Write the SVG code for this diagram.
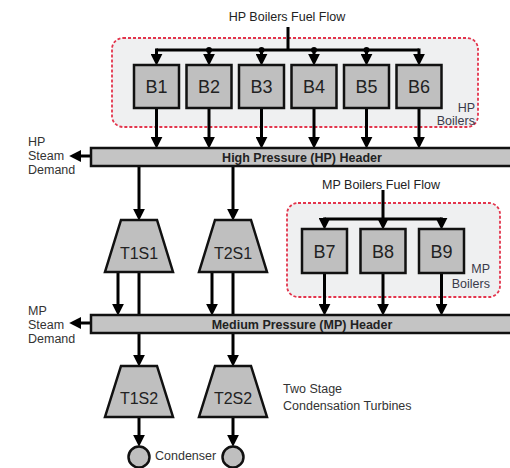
<svg xmlns="http://www.w3.org/2000/svg" width="510" height="468" viewBox="0 0 510 468">
<defs>
<marker id="ah" markerUnits="userSpaceOnUse" markerWidth="12" markerHeight="12" viewBox="0 0 10 10" refX="6" refY="5" orient="auto">
<path d="M0,0 L10,5 L0,10 z" fill="#000"/>
</marker>
<style>
.grp{fill:#eff0f1;stroke:#e3344c;stroke-width:1.8;stroke-dasharray:3 2}
.box{fill:#bfbfbf;stroke:#111;stroke-width:2.5}
.hdr{fill:#c4c4c4;stroke:#111;stroke-width:2.5}
.ln{fill:none;stroke:#000;stroke-width:3}
.arr{fill:none;stroke:#000;stroke-width:3;marker-end:url(#ah)}
.bt{font-family:"Liberation Sans",Arial,sans-serif;font-size:18px;fill:#222;text-anchor:middle}
.tt{font-family:"Liberation Sans",Arial,sans-serif;font-size:16px;fill:#222;text-anchor:middle}
.ht{font-family:"Liberation Sans",Arial,sans-serif;font-size:12.5px;font-weight:bold;fill:#222;text-anchor:middle}
.lb{font-family:"Liberation Sans",Arial,sans-serif;font-size:12.5px;fill:#333}
.lbe{font-family:"Liberation Sans",Arial,sans-serif;font-size:12.5px;fill:#3a3a4a;text-anchor:end}
.lbm{font-family:"Liberation Sans",Arial,sans-serif;font-size:12.5px;fill:#222;text-anchor:middle}
</style>
</defs>
<rect width="510" height="468" fill="#fff"/>

<g id="hp-boilers-group">
<rect class="grp" x="112" y="38" width="366" height="89" rx="11"/>
<text class="lbe" x="475" y="112">HP</text>
<text class="lbe" x="475" y="125">Boilers</text>
</g>
<g id="mp-boilers-group">
<rect class="grp" x="287" y="203" width="213" height="94" rx="11"/>
<text class="lbe" x="490" y="273">MP</text>
<text class="lbe" x="490" y="288">Boilers</text>
</g>

<g id="connectors">
<path class="ln" d="M288,27 V50 M156.5,50 H419"/>
<circle cx="209" cy="50" r="3"/>
<circle cx="261.5" cy="50" r="3"/>
<circle cx="314" cy="50" r="3"/>
<circle cx="366.5" cy="50" r="3"/>
<path class="arr" d="M156.5,48.5 V61"/>
<path class="arr" d="M209,50 V61"/>
<path class="arr" d="M261.5,50 V61"/>
<path class="arr" d="M314,50 V61"/>
<path class="arr" d="M366.5,50 V61"/>
<path class="arr" d="M419,48.5 V61"/>
<path class="arr" d="M156.5,108 V144"/>
<path class="arr" d="M209,108 V144"/>
<path class="arr" d="M261.5,108 V144"/>
<path class="arr" d="M314,108 V144"/>
<path class="arr" d="M366.5,108 V144"/>
<path class="arr" d="M419,108 V144"/>
<path class="arr" d="M91,156 H74"/>
<path class="arr" d="M91,323 H74"/>
<path class="arr" d="M139,166 V216"/>
<path class="arr" d="M233,166 V216"/>
<path class="arr" d="M118,272 V311"/>
<path class="ln" d="M139,272 V315"/>
<path class="arr" d="M212,272 V311"/>
<path class="ln" d="M233,272 V315"/>
<path class="ln" d="M383,190 V219 M324.5,219 H441.5"/>
<path class="arr" d="M324.5,217.5 V225"/>
<path class="arr" d="M383,219 V225"/>
<path class="arr" d="M441.5,217.5 V225"/>
<path class="arr" d="M324.5,273 V311"/>
<path class="arr" d="M383,273 V311"/>
<path class="arr" d="M441.5,273 V311"/>
<path class="arr" d="M139,333 V362"/>
<path class="arr" d="M233,333 V362"/>
<path class="arr" d="M139,417 V442"/>
<path class="arr" d="M233,417 V442"/>
</g>

<g id="B1"><rect class="box" x="134" y="65" width="45" height="43"/><text class="bt" x="156.5" y="93">B1</text></g>
<g id="B2"><rect class="box" x="186.5" y="65" width="45" height="43"/><text class="bt" x="209" y="93">B2</text></g>
<g id="B3"><rect class="box" x="239" y="65" width="45" height="43"/><text class="bt" x="261.5" y="93">B3</text></g>
<g id="B4"><rect class="box" x="291.5" y="65" width="45" height="43"/><text class="bt" x="314" y="93">B4</text></g>
<g id="B5"><rect class="box" x="344" y="65" width="45" height="43"/><text class="bt" x="366.5" y="93">B5</text></g>
<g id="B6"><rect class="box" x="396.5" y="65" width="45" height="43"/><text class="bt" x="419" y="93">B6</text></g>

<g id="B7"><rect class="box" x="302" y="229" width="45" height="44"/><text class="bt" x="324.5" y="257.5">B7</text></g>
<g id="B8"><rect class="box" x="360.5" y="229" width="45" height="44"/><text class="bt" x="383" y="257.5">B8</text></g>
<g id="B9"><rect class="box" x="419" y="229" width="45" height="44"/><text class="bt" x="441.5" y="257.5">B9</text></g>

<g id="hp-header"><rect class="hdr" x="91" y="148" width="425" height="18"/><text class="ht" x="302" y="161.5">High Pressure (HP) Header</text></g>
<g id="mp-header"><rect class="hdr" x="91" y="315" width="425" height="18"/><text class="ht" x="302" y="328.5">Medium Pressure (MP) Header</text></g>

<g id="T1S1"><path class="box" d="M121,220 H157 L173,272 H105 Z"/><text class="tt" x="139" y="259">T1S1</text></g>
<g id="T2S1"><path class="box" d="M215,220 H251 L267,272 H199 Z"/><text class="tt" x="233" y="259">T2S1</text></g>
<g id="T1S2"><path class="box" d="M121,366 H157 L173,417 H105 Z"/><text class="tt" x="139" y="404">T1S2</text></g>
<g id="T2S2"><path class="box" d="M215,366 H251 L267,417 H199 Z"/><text class="tt" x="233" y="404">T2S2</text></g>

<g id="condenser1"><circle class="box" cx="139" cy="457" r="10.5"/></g>
<g id="condenser2"><circle class="box" cx="233" cy="457" r="10.5"/></g>

<g id="labels">
<text class="lbm" x="287" y="20.5">HP Boilers Fuel Flow</text>
<text class="lbm" x="381" y="188.5">MP Boilers Fuel Flow</text>
<text class="lb" x="28" y="146">HP</text>
<text class="lb" x="28" y="160">Steam</text>
<text class="lb" x="28" y="174">Demand</text>
<text class="lb" x="28" y="314.5">MP</text>
<text class="lb" x="28" y="328.5">Steam</text>
<text class="lb" x="28" y="343">Demand</text>
<text class="lb" x="283" y="392.5">Two Stage</text>
<text class="lb" x="283" y="409.5">Condensation Turbines</text>
<text class="lb" x="155" y="460">Condenser</text>
</g>
</svg>
